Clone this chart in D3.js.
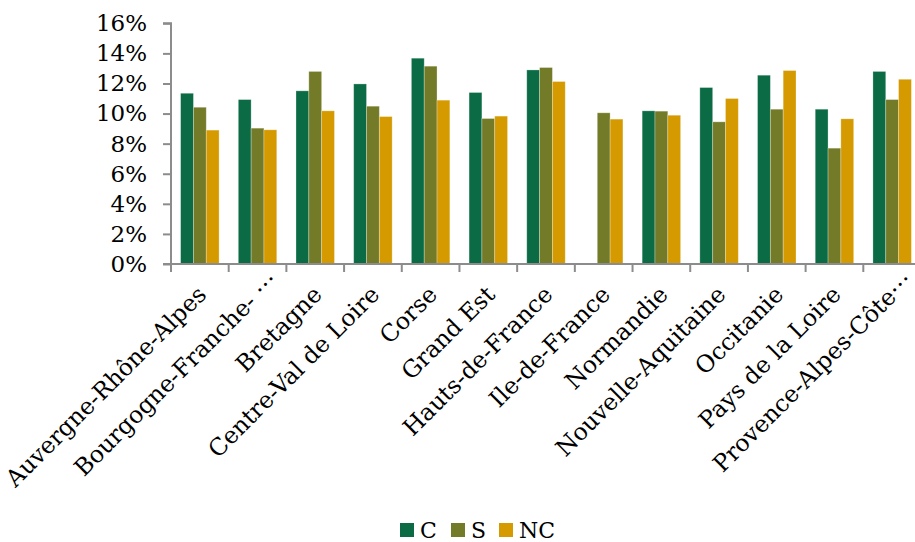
<!DOCTYPE html>
<html>
<head>
<meta charset="utf-8">
<script src="https://cdn.jsdelivr.net/npm/d3@7/dist/d3.min.js"></script>
<style>
  html, body { margin: 0; padding: 0; background: #fff; }
  svg { display: block; }
  text { font-family: "DejaVu Serif", "Liberation Serif", serif; fill: #000; }
</style>
</head>
<body>
<svg id="chart" width="915" height="542"></svg>
<script>
const categories = ["Auvergne-Rhône-Alpes", "Bourgogne-Franche- …", "Bretagne", "Centre-Val de Loire",
  "Corse", "Grand Est", "Hauts-de-France", "Ile-de-France", "Normandie", "Nouvelle-Aquitaine",
  "Occitanie", "Pays de la Loire", "Provence-Alpes-Côte…"];
const seriesNames = ["C", "S", "NC"];
const valuesC  = [0.1135, 0.1093, 0.1151, 0.1197, 0.1368, 0.1140, 0.1290, null,   0.1018, 0.1173, 0.1255, 0.1029, 0.1280];
const valuesS  = [0.1042, 0.0903, 0.1280, 0.1049, 0.1315, 0.0967, 0.1306, 0.1005, 0.1016, 0.0945, 0.1029, 0.0770, 0.1093];
const valuesNC = [0.0890, 0.0892, 0.1018, 0.0980, 0.1089, 0.0983, 0.1213, 0.0963, 0.0989, 0.1100, 0.1286, 0.0965, 0.1228];
const yTicks = [0, 0.02, 0.04, 0.06, 0.08, 0.10, 0.12, 0.14, 0.16];
const colors = ["#0b6b45", "#747b28", "#d49a00"];

(function() {
const seriesValues = [valuesC, valuesS, valuesNC];
const svg = d3.select("#chart");
svg.append("rect").attr("width", 915).attr("height", 542).attr("fill", "#fff");

const pLeft = 171, pRight = 921, pTop = 23.3, pBottom = 264;
const x0 = d3.scaleBand().domain(categories).range([pLeft, pRight]).paddingInner(0).paddingOuter(0);
const bw = x0.bandwidth();
const gap = bw * 0.75 / 4.5;
const x1 = d3.scaleBand().domain(seriesNames).range([gap, bw - gap]).padding(0);
const y = d3.scaleLinear().domain([0, 0.16]).range([pBottom, pTop]);

// bars
const g = svg.append("g");
categories.forEach((c, i) => {
  seriesNames.forEach((s, j) => {
    const v = seriesValues[j][i];
    if (v == null) return;
    g.append("rect")
      .attr("x", x0(c) + x1(s))
      .attr("y", y(v))
      .attr("width", x1.bandwidth())
      .attr("height", y(0) - y(v))
      .attr("fill", colors[j])
      .attr("stroke", "#ffffff")
      .attr("stroke-opacity", 0.35)
      .attr("stroke-width", 0.8);
  });
});

// y axis
const yAxis = d3.axisLeft(y).tickValues(yTicks).tickFormat(d3.format(".0%")).tickSize(8).tickPadding(16);
const ya = svg.append("g").attr("transform", `translate(${pLeft},0)`).call(yAxis);
ya.select(".domain").attr("stroke", "#8c8c8c").attr("stroke-width", 2).attr("d", `M-8,${pTop}H0V${pBottom}`);
ya.selectAll(".tick line").attr("stroke", "#8c8c8c").attr("stroke-width", 2);
ya.selectAll(".tick text").attr("font-size", 23).attr("font-family", "DejaVu Serif").attr("fill", "#000");

// x axis
const xa = svg.append("g");
xa.append("line").attr("x1", pLeft - 8).attr("x2", pRight).attr("y1", pBottom).attr("y2", pBottom)
  .attr("stroke", "#8c8c8c").attr("stroke-width", 2);
xa.selectAll("line.tk").data(categories).enter().append("line").attr("class", "tk")
  .attr("x1", d => x0(d)).attr("x2", d => x0(d)).attr("y1", pBottom).attr("y2", pBottom + 8)
  .attr("stroke", "#8c8c8c").attr("stroke-width", 2);

// category labels
xa.selectAll("text.cat").data(categories).enter().append("text").attr("class", "cat")
  .attr("text-anchor", "end")
  .attr("font-size", 23.5)
  .attr("transform", d => `translate(${x0(d) + bw / 2 + 8},${pBottom + 32}) rotate(-45)`)
  .each(function(d) {
    const t = d3.select(this);
    if (d.endsWith("…")) {
      t.attr("dx", 20);
      t.append("tspan").text(d.slice(0, -1));
      t.append("tspan").attr("dy", "-0.3em").text("…");
    } else {
      t.text(d);
    }
  });

// legend
const legX = [400, 451, 499];
const leg = svg.append("g");
seriesNames.forEach((s, j) => {
  leg.append("rect").attr("x", legX[j]).attr("y", 523).attr("width", 14).attr("height", 14).attr("fill", colors[j]);
  leg.append("text").attr("x", legX[j] + 20).attr("y", 538).attr("font-size", 22).text(s);
});
})();
</script>
</body>
</html>
